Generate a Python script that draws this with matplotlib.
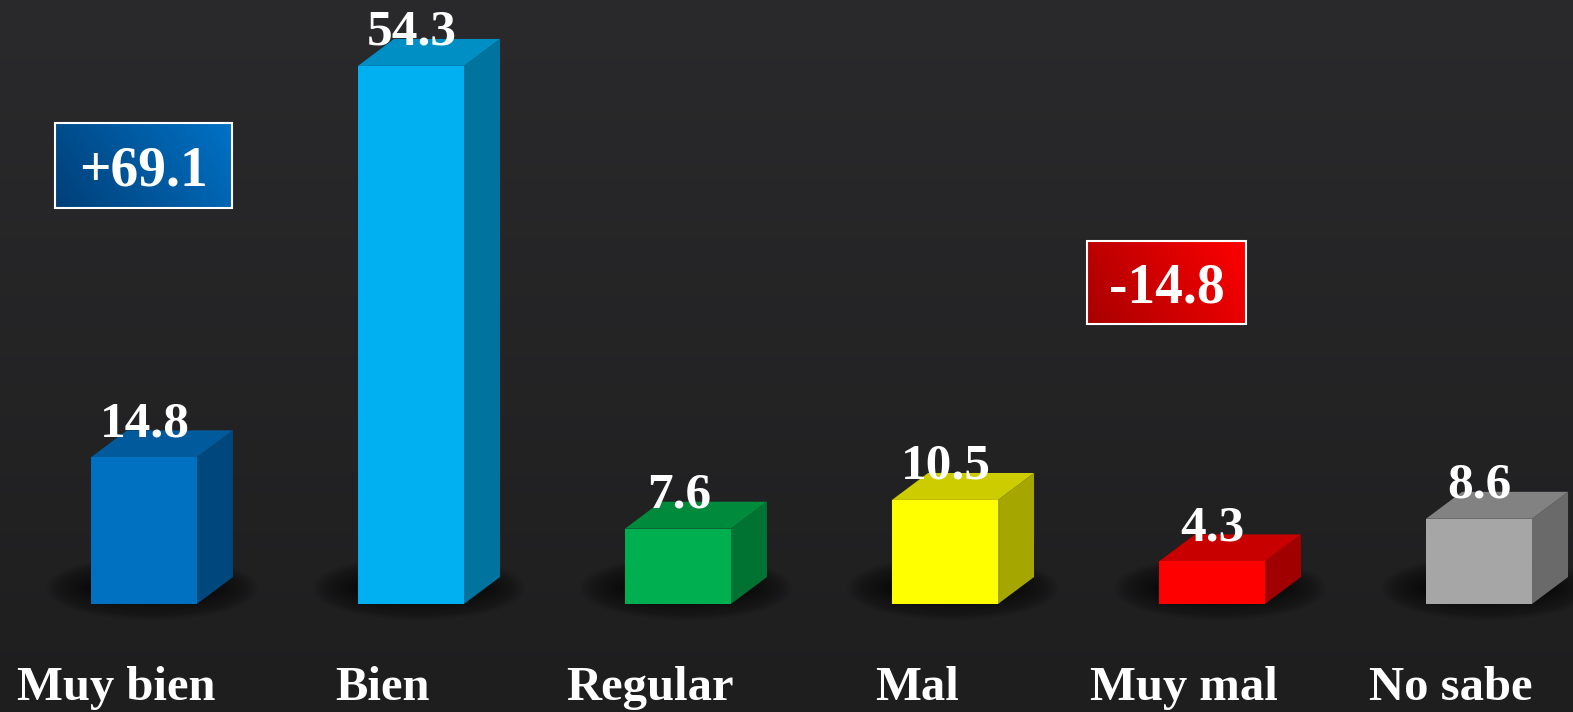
import numpy as np
import matplotlib
matplotlib.use("Agg")
import matplotlib.pyplot as plt
from matplotlib.patches import Polygon, Rectangle, Ellipse
from matplotlib.colors import LinearSegmentedColormap

categories = ["Muy bien", "Bien", "Regular", "Mal", "Muy mal", "No sabe"]
values = [14.8, 54.3, 7.6, 10.5, 4.3, 8.6]
value_labels = ["14.8", "54.3", "7.6", "10.5", "4.3", "8.6"]
front_colors = ["#0070c0", "#00b0f0", "#00b050", "#ffff00", "#ff0000", "#a6a6a6"]
top_colors = ["#005a9c", "#008fc4", "#008a3c", "#cccc00", "#c80000", "#828282"]
side_colors = ["#00477c", "#00739e", "#007232", "#a6a600", "#a00000", "#6a6a6a"]

pos_label = "+69.1"
neg_label = "-14.8"

W, H = 1573, 712
fig = plt.figure(figsize=(W / 100, H / 100), dpi=100)
ax = fig.add_axes([0, 0, 1, 1])
ax.set_xlim(-0.539, 5.352)
ax.set_ylim(-10.9, 60.95)
ax.axis("off")

# background gradient
bg = LinearSegmentedColormap.from_list("bg", ["#1e1e1f", "#2a2a2c"])
grad = np.linspace(0, 1, 256).reshape(-1, 1)
ax.imshow(grad, cmap=bg, aspect="auto", extent=[-0.539, 5.352, -10.9, 60.95],
          origin="lower", zorder=0)

bw = 0.397
dx = 0.135
dy = 2.72

x = np.arange(len(categories))
for i, (v, fc, tc, sc) in enumerate(zip(values, front_colors, top_colors, side_colors)):
    xc = x[i]
    # soft shadow
    n = 18
    for k in range(n):
        f = 1 - k / n
        ax.add_patch(Ellipse((xc + 0.03, 1.6), bw * (1.1 + 0.9 * f), 1.5 + 5.0 * f,
                             facecolor="black", edgecolor="none", alpha=0.045, zorder=1))
    l, r = xc - bw / 2, xc + bw / 2
    ax.add_patch(Polygon([(r, 0), (r + dx, dy), (r + dx, v + dy), (r, v)],
                         closed=True, facecolor=sc, edgecolor="none", zorder=2))
    ax.add_patch(Polygon([(l, v), (r, v), (r + dx, v + dy), (l + dx, v + dy)],
                         closed=True, facecolor=tc, edgecolor="none", zorder=2))
    ax.add_patch(Rectangle((l, 0), bw, v, facecolor=fc, edgecolor="none", zorder=3))
    ax.text(xc + 0.003, v + dy - 0.6, value_labels[i], ha="center", va="baseline",
            fontsize=37, fontweight="bold", family="Liberation Serif", color="white",
            zorder=5)
    ax.text(xc - 0.105, -9.7, categories[i], ha="center", va="baseline",
            fontsize=35, fontweight="bold", family="Liberation Serif", color="white",
            zorder=5)


def grad_box(cx, cy, w, h, c0, c1, label, fs):
    cm = LinearSegmentedColormap.from_list("g", [c0, c1])
    gx = np.linspace(0, 1, 200)
    gy = np.linspace(0, 1, 60)
    G = 0.75 * gx[None, :] + 0.25 * gy[::-1, None]
    G = G / G.max()
    ax.imshow(G, cmap=cm, aspect="auto", extent=[cx - w / 2, cx + w / 2, cy - h / 2, cy + h / 2],
              origin="upper", zorder=6)
    ax.add_patch(Rectangle((cx - w / 2, cy - h / 2), w, h, facecolor="none",
                           edgecolor="white", linewidth=1.5, zorder=7))
    ax.text(cx, cy - 2.0, label, ha="center", va="baseline", fontsize=fs,
            fontweight="bold", family="Liberation Serif", color="white", zorder=8)


grad_box(0.0, 44.25, 0.663, 8.58, "#003f78", "#0072c6", pos_label, 40)
grad_box(3.83, 32.4, 0.596, 8.38, "#a80000", "#ff0000", neg_label, 40)

fig.savefig("out.png", dpi=100, facecolor="#262627")
